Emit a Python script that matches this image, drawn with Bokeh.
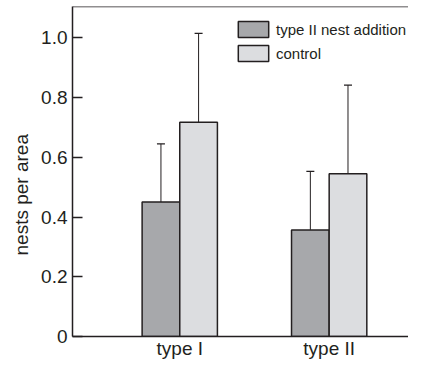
from bokeh.plotting import figure
from bokeh.models import (ColumnDataSource, Whisker, TeeHead, Span, FixedTicker,
                          Legend, LegendItem, Range1d, Title)
from bokeh.embed import file_html
from bokeh.resources import INLINE
import numpy as np

# ---- data ----
categories = ["type I", "type II"]
series_names = ["type II nest addition", "control"]
nest_addition = [0.45, 0.357]
nest_addition_err = [0.195, 0.196]
control = [0.717, 0.545]
control_err = [0.298, 0.297]
y_ticks = [0, 0.2, 0.4, 0.6, 0.8, 1.0]
y_tick_labels = ["0", "0.2", "0.4", "0.6", "0.8", "1.0"]
y_label = "nests per area"

FONT = "Liberation Sans"
INK = "#231f20"
DARK = "#a7a8ab"
LIGHT = "#dcdde0"

pos = np.arange(1, len(categories) + 1, dtype=float)
bar_w = 0.252
y_end = 1.105

p = figure(width=408, height=361, output_backend="svg", toolbar_location=None,
           x_range=Range1d(0.282, 2.531), y_range=Range1d(0, y_end),
           min_border_left=72, min_border_right=0, min_border_top=6,
           min_border_bottom=0)
p.outline_line_color = None
p.xgrid.visible = False
p.ygrid.visible = False
p.background_fill_color = "white"
p.border_fill_color = "white"

src_a = ColumnDataSource(dict(x=pos - bar_w / 2, top=nest_addition,
                              upper=np.array(nest_addition) + np.array(nest_addition_err)))
src_c = ColumnDataSource(dict(x=pos + bar_w / 2, top=control,
                              upper=np.array(control) + np.array(control_err)))

for src in (src_a, src_c):
    w = Whisker(base="x", lower="top", upper="upper", source=src, dimension="height",
                lower_head=None,
                upper_head=TeeHead(size=8, line_color=INK, line_width=1.2),
                line_color=INK, line_width=1)
    p.add_layout(w)

ra = p.vbar(x="x", top="top", width=bar_w, bottom=0, source=src_a,
            fill_color=DARK, line_color=INK, line_width=1.5)
rc = p.vbar(x="x", top="top", width=bar_w, bottom=0, source=src_c,
            fill_color=LIGHT, line_color=INK, line_width=1.5)

# top frame line
p.add_layout(Span(location=y_end, dimension="width", line_color=INK, line_width=1.5))

# y axis
ya = p.yaxis[0]
ya.ticker = FixedTicker(ticks=y_ticks)
ya.major_label_overrides = {t: l for t, l in zip(y_ticks, y_tick_labels)}
ya.major_tick_in = 10
ya.major_tick_out = 0
ya.minor_tick_line_color = None
ya.minor_tick_in = 0
ya.minor_tick_out = 0
ya.axis_line_color = INK
ya.axis_line_width = 1.5
ya.major_tick_line_color = INK
ya.major_tick_line_width = 1.5
ya.major_label_text_font = FONT
ya.major_label_text_font_size = "19px"
ya.major_label_text_color = INK
ya.major_label_standoff = 5

# y axis title, placed a little below the frame centre as in the reference
p.add_layout(Title(text=y_label, align="left", offset=81, standoff=14,
                   text_font=FONT, text_font_size="19px", text_font_style="normal",
                   text_color=INK), "left")

# x axis
xa = p.xaxis[0]
xa.ticker = FixedTicker(ticks=list(pos))
xa.major_label_overrides = {float(x): c for x, c in zip(pos, categories)}
xa.major_tick_line_color = None
xa.major_tick_in = 0
xa.major_tick_out = 0
xa.minor_tick_line_color = None
xa.minor_tick_in = 0
xa.minor_tick_out = 0
xa.axis_line_color = INK
xa.axis_line_width = 1.5
xa.major_label_text_font = FONT
xa.major_label_text_font_size = "19px"
xa.major_label_text_color = INK
xa.major_label_standoff = 1

legend = Legend(items=[LegendItem(label=series_names[0], renderers=[ra]),
                       LegendItem(label=series_names[1], renderers=[rc])],
                location=(162, 273), padding=0, spacing=4, margin=0,
                glyph_width=38, glyph_height=20, label_standoff=4,
                label_text_font=FONT, label_text_font_size="15px",
                label_text_color=INK, border_line_color=None,
                background_fill_alpha=0)
p.add_layout(legend)

open("out.html", "w").write(file_html(p, INLINE))
